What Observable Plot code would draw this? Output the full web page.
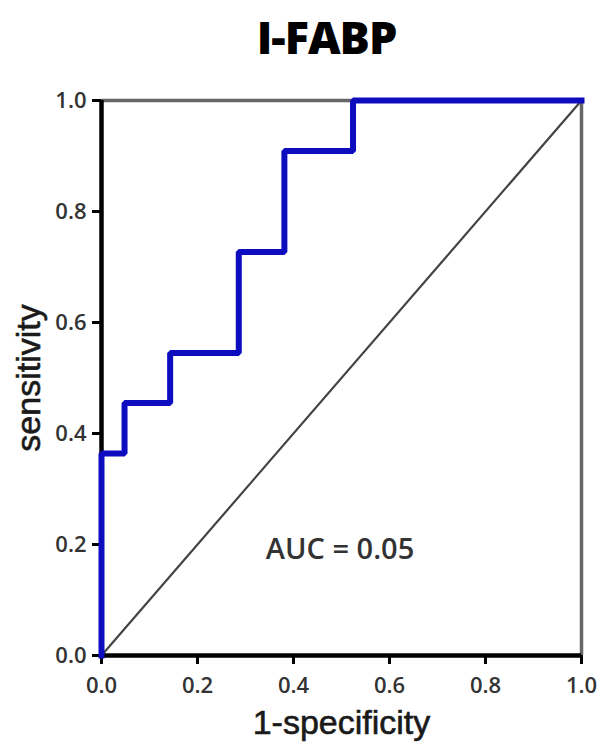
<!DOCTYPE html>
<html>
<head>
<meta charset="utf-8">
<script src="https://cdn.jsdelivr.net/npm/d3@7"></script>
<script src="https://cdn.jsdelivr.net/npm/@observablehq/plot@0.6"></script>
<style>
  html, body { margin: 0; padding: 0; background: #fff; }
  #wrap { width: 601px; height: 750px; position: relative; overflow: hidden; }
  #title { height: 75px; width: 601px; box-sizing: border-box; padding-left: 52px; text-align: center;
           font-family: "Open Sans", sans-serif; font-weight: 800; font-size: 45px; line-height: 75px; color: #000; letter-spacing: -1px; }
  #title span { position: relative; top: -1px; }
</style>
</head>
<body>
<div id="wrap">
  <div id="title"><span>I-FABP</span></div>
  <div id="chart"></div>
</div>
<script>
// ROC curve points (1-specificity, sensitivity)
const fpr = [0, 0, 0.048, 0.143, 0.286, 0.381, 0.524, 1];
const tpr = [0, 0.364, 0.455, 0.545, 0.727, 0.909, 1, 1];
// reference (chance) diagonal
const diagX = [0, 1];
const diagY = [0, 1];
// tick values
const ticks = [0, 0.2, 0.4, 0.6, 0.8, 1.0];
// annotation
const aucLabel = "AUC = 0.05";
const aucPos = {x: 0.497, y: 0.19};

const roc = fpr.map((x, i) => ({x, y: tpr[i]}));
const diag = diagX.map((x, i) => ({x, y: diagY[i]}));

const chart = Plot.plot({
  width: 601,
  height: 675,
  marginTop: 25,
  marginBottom: 95,
  marginLeft: 101,
  marginRight: 20,
  style: {fontFamily: "'Open Sans', sans-serif", background: "#fff"},
  x: {domain: [0, 1]},
  y: {domain: [0, 1]},
  marks: [
    Plot.line(diag, {x: "x", y: "y", stroke: "#444", strokeWidth: 2.2}),
    Plot.ruleY([1], {stroke: "#666", strokeWidth: 3.5}),
    Plot.ruleX([1], {stroke: "#666", strokeWidth: 3.5}),
    Plot.axisX({ticks, tickFormat: d3.format(".1f"), tickSize: 9, tickPadding: 13, strokeWidth: 3, stroke: "#000",
      fontSize: 22, fontWeight: 600, fill: "#333",
      label: "1-specificity", labelAnchor: "center", labelArrow: "none", labelOffset: 78}),
    Plot.axisY({ticks, tickFormat: d3.format(".1f"), tickSize: 9, tickPadding: 6, strokeWidth: 3, stroke: "#000",
      fontSize: 22, fontWeight: 600, fill: "#333",
      label: "sensitivity", labelAnchor: "center", labelArrow: "none", labelOffset: 86}),
    Plot.ruleY([0], {stroke: "#000", strokeWidth: 4.5}),
    Plot.ruleX([0], {stroke: "#000", strokeWidth: 4.5}),
    Plot.line(roc, {x: "x", y: "y", curve: "step-after", stroke: "#0d0dbf", strokeWidth: 6, strokeLinejoin: "miter", strokeLinecap: "square"}),
    Plot.text([aucPos], {x: "x", y: "y", text: () => aucLabel, fontSize: 29, fontWeight: 600, fill: "#333",
      fontFamily: "'Open Sans', sans-serif", letterSpacing: -1})
  ]
});
document.getElementById("chart").appendChild(chart);
// style axis labels (larger font)
chart.querySelectorAll("[aria-label$='axis label'] text, [aria-label$='axis label']").forEach(el => {
  el.setAttribute("font-size", 34);
  el.setAttribute("font-family", "'Liberation Sans', Arial, sans-serif");
  el.setAttribute("font-weight", 400);
  el.setAttribute("fill", "#1a1a1a");
  el.setAttribute("stroke", "#1a1a1a");
  el.setAttribute("stroke-width", 0.6);
});
</script>
</body>
</html>
